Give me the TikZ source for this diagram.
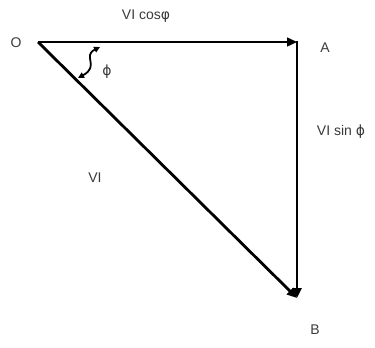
\documentclass[tikz,border=0pt]{standalone}
\usepackage{fontspec}
\setmainfont{Liberation Sans}
\newfontfamily\symf{DejaVu Sans}
\usetikzlibrary{arrows.meta}
\definecolor{txt}{HTML}{3A3A3A}
\begin{document}
\begin{tikzpicture}[x=1pt,y=-1pt,
  lbl/.style={text=txt,font=\fontsize{14}{16}\selectfont,inner sep=0pt},
  thick line/.style={line width=2.8pt},
  tip/.style={-{Triangle[length=10pt,width=9pt]}}]
\useasboundingbox (0,0) rectangle (375,348);
\coordinate (O) at (38,42);
\coordinate (P) at (100,42);
\coordinate (A) at (297,42);
\coordinate (B) at (297,298);
\coordinate (a1) at (100,47);
\coordinate (a2) at (78,78);
% vectors
\draw[thick line] (O) -- (P);
\draw[line width=1.4pt,tip] (P) -- (A);
\draw[thick line,tip] (O) -- (B);
\draw[thick line,tip] ([yshift=1pt]A) -- (B);
% angle marker
\draw[line width=1.8pt,{Triangle[length=6pt,width=6pt]}-{Triangle[length=6pt,width=6pt]}]
  (a1) .. controls (82,56) and (100,66) .. (a2);
% labels
\node[lbl] (lO) at (16,43) {O};
\node[lbl] (lcos) at (146,16) {VI cos{\symf φ}};
\node[lbl] (lA) at (325,48) {A};
\node[lbl] (lsin) at (341,132) {VI sin {\symf ϕ}};
\node[lbl] (lVI) at (95,178) {VI};
\node[lbl] (lB) at (315,330) {B};
\node[lbl] (lphi) at (107,72) {\symf ϕ};
\end{tikzpicture}
\end{document}
